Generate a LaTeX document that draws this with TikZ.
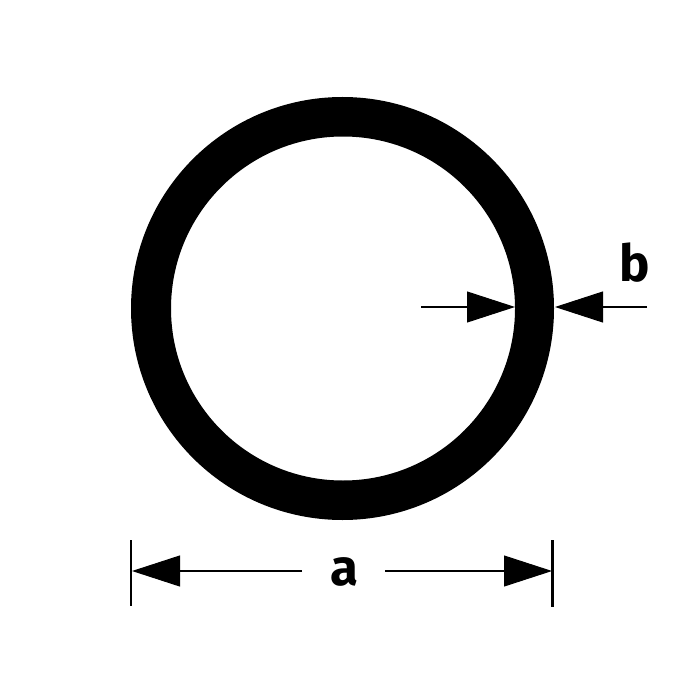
\documentclass[tikz,border=0pt]{standalone}
\usepackage{fontspec}
\setmainfont{Fira Sans}
\usetikzlibrary{arrows.meta}
\tikzset{
  dimline/.style={line width=2.4pt,draw=black,line cap=butt},
  dimtip/.style={-{Triangle[length=48pt,width=31pt,fill=black,line width=1pt]}},
  tick/.style={line width=2.6pt,draw=black},
  dimlabel/.style={inner sep=0pt,font=\fontsize{51}{51}\selectfont\bfseries,text=black,anchor=base},
}
\begin{document}
\begin{tikzpicture}[x=1pt,y=-1pt]
\useasboundingbox[fill=white] (0,0) rectangle (700,700);
% ring
\fill[black,even odd rule] (342.5,308.5) circle[radius=211.5] (343,308.5) circle[radius=172];
% width dimension a
\coordinate (tl1) at (131,540); \coordinate (tl2) at (131,606);
\coordinate (tr1) at (552.5,540); \coordinate (tr2) at (552.5,607);
\draw[tick] (tl1) -- (tl2);
\draw[tick] (tr1) -- (tr2);
\coordinate (al) at (132,571); \coordinate (ar) at (552,571);
\coordinate (as) at (302,571); \coordinate (ae) at (385,571);
\node[dimlabel] (a) at (344.5,585) {a};
\draw[dimline,dimtip] (as) -- (al);
\draw[dimline,dimtip] (ae) -- (ar);
% wall dimension b
\coordinate (bl) at (421,307); \coordinate (bli) at (515,307);
\coordinate (br) at (647,307); \coordinate (bri) at (555,307);
\draw[dimline,dimtip] (bl) -- (bli);
\draw[dimline,dimtip] (br) -- (bri);
\node[dimlabel] (b) at (635,281) {b};
\end{tikzpicture}
\end{document}
